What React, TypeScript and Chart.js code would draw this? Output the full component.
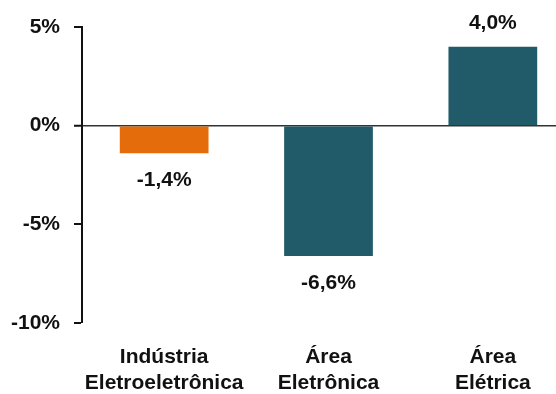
import React, { useEffect, useRef } from "react";
import { Chart, registerables } from "chart.js";

Chart.register(...registerables);

const categories: string[][] = [
  ["Indústria", "Eletroeletrônica"],
  ["Área", "Eletrônica"],
  ["Área", "Elétrica"],
];
const values: number[] = [-1.4, -6.6, 4.0];
const valueLabels: string[] = ["-1,4%", "-6,6%", "4,0%"];
const barColors: string[] = ["#E46C0A", "#215A69", "#215A69"];
const yTicks: number[] = [-10, -5, 0, 5];

const FONT = "'Liberation Sans', Arial, sans-serif";

const labelPlugin = {
  id: "valueLabels",
  afterDatasetsDraw(chart: any) {
    const ctx = chart.ctx;
    const meta = chart.getDatasetMeta(0);
    ctx.save();
    ctx.font = `bold 21px ${FONT}`;
    ctx.fillStyle = "#111";
    ctx.textAlign = "center";
    ctx.textBaseline = "middle";
    meta.data.forEach((bar: any, i: number) => {
      const v = values[i];
      const y = v < 0 ? bar.y + 27 : bar.y - 24;
      ctx.fillText(valueLabels[i], bar.x, y);
    });
    ctx.restore();
  },
};

export default function App() {
  const ref = useRef<HTMLCanvasElement | null>(null);
  useEffect(() => {
    if (!ref.current) return;
    const chart = new Chart(ref.current, {
      type: "bar",
      data: {
        labels: categories as any,
        datasets: [
          {
            data: values,
            backgroundColor: barColors,
            borderWidth: 0,
            categoryPercentage: 1,
            barPercentage: 0.54,
          },
        ],
      },
      options: {
        responsive: false,
        animation: false,
        layout: { padding: { top: 27, left: 0, right: 0, bottom: 0 } },
        plugins: {
          legend: { display: false },
          tooltip: { enabled: false },
        },
        scales: {
          x: {
            grid: { display: false, drawTicks: false },
            border: { display: false },
            ticks: {
              color: "#111",
              font: { family: FONT, size: 21, weight: "bold", lineHeight: 1.2 },
              padding: 22,
              maxRotation: 0,
              autoSkip: false,
            },
            afterFit: (scale: any) => {
              scale.height = 71;
            },
          },
          y: {
            min: -10,
            max: 5,
            z: 1,
            afterBuildTicks: (scale: any) => {
              scale.ticks = yTicks.map((v) => ({ value: v }));
            },
            afterFit: (scale: any) => {
              scale.width = 82;
            },
            ticks: {
              color: "#111",
              font: { family: FONT, size: 21, weight: "bold" },
              padding: 14,
              callback: (v: any) => `${v}%`,
            },
            grid: {
              drawOnChartArea: true,
              drawTicks: true,
              tickLength: 8,
              lineWidth: (c: any) => (c.tick && c.tick.value === 0 ? 1.5 : 0),
              color: (c: any) => (c.tick && c.tick.value === 0 ? "#333" : "rgba(0,0,0,0)"),
              tickColor: "#111",
              tickWidth: 2,
            },
            border: { display: true, color: "#111", width: 2 },
          },
        },
      },
      plugins: [labelPlugin],
    });
    return () => chart.destroy();
  }, []);
  return (
    <div
      style={{
        position: "fixed",
        left: 0,
        top: 0,
        width: 556,
        height: 394,
        overflow: "hidden",
        background: "#fff",
      }}
    >
      <canvas ref={ref} width={575} height={394} style={{ display: "block" }} />
    </div>
  );
}
